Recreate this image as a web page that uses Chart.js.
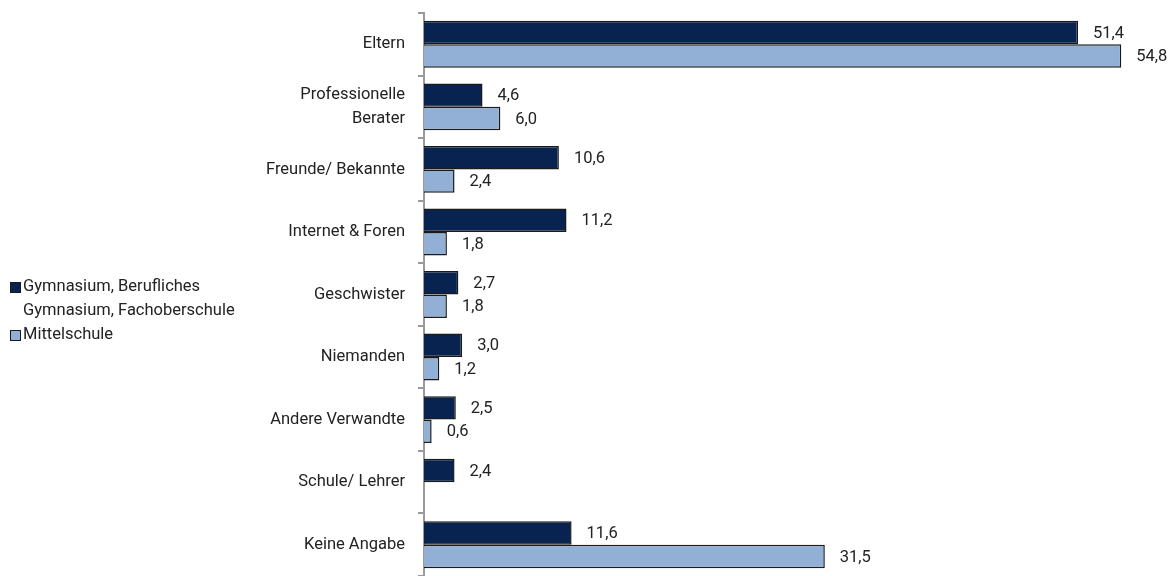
<!DOCTYPE html>
<html>
<head>
<meta charset="utf-8">
<script src="https://cdn.jsdelivr.net/npm/chart.js@4/dist/chart.umd.min.js"></script>
<style>
  html, body { margin: 0; padding: 0; background: #fff; }
  #wrap { width: 1171px; height: 576px; }
</style>
</head>
<body>
<div id="wrap"><canvas id="chart" width="1171" height="576"></canvas></div>
<script>
// Data
const categories = [
  "Eltern", ["Professionelle", "Berater"], "Freunde/ Bekannte", "Internet & Foren",
  "Geschwister", "Niemanden", "Andere Verwandte", "Schule/ Lehrer", "Keine Angabe"
];
const gymnasium = [51.4, 4.6, 10.6, 11.2, 2.7, 3.0, 2.5, 2.4, 11.6];
const mittelschule = [54.8, 6.0, 2.4, 1.8, 1.8, 1.2, 0.6, null, 31.5];
const seriesNames = [["Gymnasium, Berufliches", "Gymnasium, Fachoberschule"], ["Mittelschule"]];

const FONT = "Roboto, 'Liberation Sans', sans-serif";
const TEXT = "#222";
const DARK = "#08234f";
const LIGHT = "#92afd6";

// value labels right of each bar
const valueLabels = {
  id: "valueLabels",
  afterDatasetsDraw(chart) {
    const ctx = chart.ctx;
    ctx.save();
    ctx.font = "16.5px " + FONT;
    ctx.fillStyle = TEXT;
    ctx.textBaseline = "middle";
    ctx.textAlign = "left";
    chart.data.datasets.forEach((ds, i) => {
      chart.getDatasetMeta(i).data.forEach((bar, j) => {
        const v = ds.data[j];
        if (v === null) return;
        ctx.fillText(v.toFixed(1).replace(".", ","), bar.x + 15, bar.y + 1);
      });
    });
    ctx.restore();
  }
};

// legend on the far left
const sideLegend = {
  id: "sideLegend",
  afterDraw(chart) {
    const ctx = chart.ctx;
    ctx.save();
    ctx.font = "16.5px " + FONT;
    ctx.textBaseline = "middle";
    ctx.textAlign = "left";
    let y = 287;
    chart.data.datasets.forEach((ds, i) => {
      ctx.fillStyle = ds.backgroundColor;
      ctx.fillRect(10, y - 5, 11, 11);
      ctx.strokeStyle = "#1a1a1a";
      ctx.lineWidth = 1;
      ctx.strokeRect(10.5, y - 4.5, 10, 10);
      ctx.fillStyle = TEXT;
      seriesNames[i].forEach(line => {
        ctx.fillText(line, 23, y);
        y += 24;
      });
    });
    ctx.restore();
  }
};

new Chart(document.getElementById("chart"), {
  type: "bar",
  data: {
    labels: categories,
    datasets: [
      {
        label: "Gymnasium, Berufliches Gymnasium, Fachoberschule",
        data: gymnasium,
        backgroundColor: DARK,
        borderColor: "#1a1a1a",
        borderWidth: 1.5,
        categoryPercentage: 0.75,
        barPercentage: 1
      },
      {
        label: "Mittelschule",
        data: mittelschule,
        backgroundColor: LIGHT,
        borderColor: "#1a1a1a",
        borderWidth: 1.5,
        categoryPercentage: 0.75,
        barPercentage: 1
      }
    ]
  },
  options: {
    indexAxis: "y",
    responsive: false,
    animation: false,
    layout: { padding: { top: 13, right: 9, bottom: 0, left: 0 } },
    plugins: {
      legend: { display: false },
      tooltip: { enabled: false }
    },
    scales: {
      x: { display: false, min: 0, max: 58 },
      y: {
        afterFit(axis) {
          axis.width = 424;
          axis.paddingTop = 0;
          axis.paddingBottom = 0;
        },
        border: { display: true, color: "#9a9a9a", width: 2 },
        grid: { drawOnChartArea: false, drawTicks: true, tickLength: 6, color: "#9a9a9a", lineWidth: 2 },
        ticks: {
          color: TEXT,
          padding: 13,
          font: { family: FONT, size: 16.5, lineHeight: 1.45 }
        }
      }
    }
  },
  plugins: [valueLabels, sideLegend]
});
</script>
</body>
</html>
